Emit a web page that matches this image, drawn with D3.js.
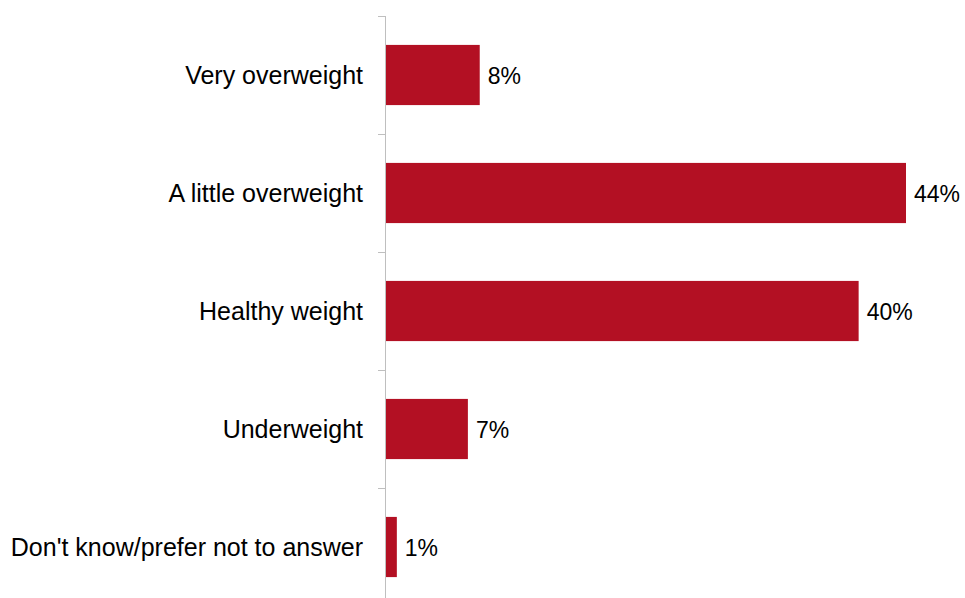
<!DOCTYPE html>
<html>
<head>
<meta charset="utf-8">
<script src="https://cdn.jsdelivr.net/npm/d3@7"></script>
<style>
  html, body { margin: 0; padding: 0; background: #fff; }
  svg { display: block; }
  text { font-family: "Liberation Sans", Arial, sans-serif; fill: #000; }
</style>
</head>
<body>
<svg id="chart" width="965" height="598"></svg>
<script>
// Survey responses: perceived weight
const categories = [
  "Very overweight",
  "A little overweight",
  "Healthy weight",
  "Underweight",
  "Don't know/prefer not to answer"
];
const values = [8, 44, 40, 7, 1];

const width = 965, height = 598;
const axisX = 385;
const bandTop = 16, bandStep = 118;

const svg = d3.select("#chart");

const x = d3.scaleLinear()
  .domain([0, 44])
  .range([axisX, 906]);

const y = d3.scaleBand()
  .domain(categories)
  .range([bandTop, bandTop + bandStep * categories.length])
  .paddingInner(0.49)
  .paddingOuter(0.245);

// Category axis: grey line with outward ticks at band boundaries
const axisColor = "#bfbfbf";
svg.append("line")
  .attr("x1", axisX + 0.5).attr("x2", axisX + 0.5)
  .attr("y1", bandTop).attr("y2", height)
  .attr("stroke", axisColor).attr("stroke-width", 1);

const boundaries = d3.range(categories.length + 1).map(i => bandTop + i * bandStep);
svg.selectAll("line.tick")
  .data(boundaries)
  .join("line")
  .attr("class", "tick")
  .attr("x1", axisX - 7).attr("x2", axisX)
  .attr("y1", d => d + 0.5).attr("y2", d => d + 0.5)
  .attr("stroke", axisColor).attr("stroke-width", 1);

// Bars
svg.selectAll("rect.bar")
  .data(values)
  .join("rect")
  .attr("class", "bar")
  .attr("x", x(0) + 1)
  .attr("y", (d, i) => y(categories[i]))
  .attr("width", d => x(d) - x(0) - 1)
  .attr("height", y.bandwidth())
  .attr("fill", "#b31023");

// Category labels
svg.selectAll("text.cat")
  .data(categories)
  .join("text")
  .attr("class", "cat")
  .attr("x", axisX - 22)
  .attr("y", d => y(d) + y.bandwidth() / 2)
  .attr("dy", "0.35em")
  .attr("text-anchor", "end")
  .attr("font-size", 25)
  .text(d => d);

// Value labels
svg.selectAll("text.val")
  .data(values)
  .join("text")
  .attr("class", "val")
  .attr("x", d => x(d) + 8)
  .attr("y", (d, i) => y(categories[i]) + y.bandwidth() / 2)
  .attr("dy", "0.38em")
  .attr("font-size", 23)
  .text(d => d + "%");
</script>
</body>
</html>
